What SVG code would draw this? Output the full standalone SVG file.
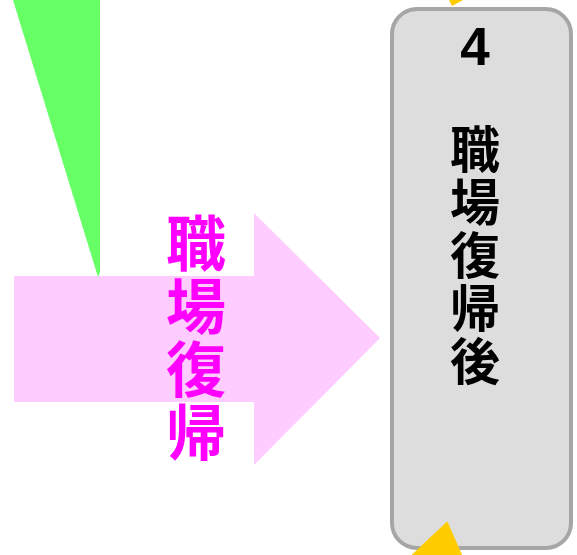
<svg xmlns="http://www.w3.org/2000/svg" width="577" height="555" viewBox="0 0 577 555">
<style>
.cjk{font-family:"Noto Sans CJK JP","Noto Sans CJK SC",sans-serif;font-weight:bold;writing-mode:vertical-rl;text-orientation:upright}
.pink{fill:#FF00FF;font-size:60px;letter-spacing:3px}
.blk{fill:#000000;font-size:50px;letter-spacing:3px}
</style>
<rect x="0" y="0" width="577" height="555" fill="#FFFFFF"/>
<g id="arrow">
<polygon points="14,276 254,276 254,213 380,338 254,465 254,402 14,402" fill="#FFCCFF"/>
<text class="cjk pink" x="196" y="213">職場復帰</text>
</g>
<g id="node4">
<rect x="392" y="9" width="179" height="539" rx="25" ry="25" fill="#DDDDDD" stroke="#A6A6A6" stroke-width="4"/>
<text x="475" y="65" font-family="Liberation Sans, Arial, sans-serif" font-weight="bold" font-size="53" text-anchor="middle" fill="#000000">4</text>
<text class="cjk blk" x="475" y="124">職場復帰後</text>
</g>
<g id="connectors">
<polygon points="13,0 100,0 100,272 98,277" fill="#66FF66"/>
<polygon points="449,0 463,0 452,6" fill="#FFCC00"/>
<polygon points="447,523 461,555 413,555" fill="#FFCC00" stroke="#FFCC00" stroke-width="2" stroke-linejoin="round"/>
</g>
</svg>
